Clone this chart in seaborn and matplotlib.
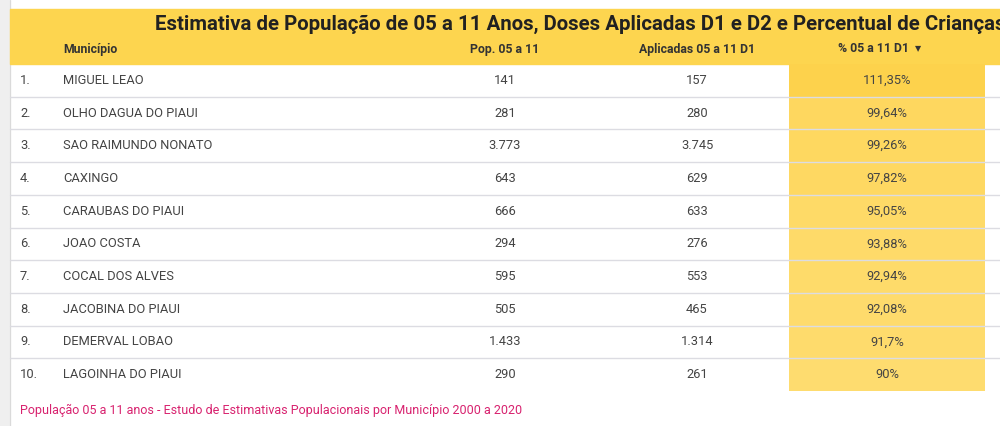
import numpy as np
import pandas as pd
import seaborn as sns
import matplotlib.pyplot as plt
from matplotlib.colors import LinearSegmentedColormap

# table contents
rank = ["1.", "2.", "3.", "4.", "5.", "6.", "7.", "8.", "9.", "10."]
municipio = ["MIGUEL LEAO", "OLHO DAGUA DO PIAUI", "SAO RAIMUNDO NONATO", "CAXINGO",
             "CARAUBAS DO PIAUI", "JOAO COSTA", "COCAL DOS ALVES", "JACOBINA DO PIAUI",
             "DEMERVAL LOBAO", "LAGOINHA DO PIAUI"]
pop_05_11 = ["141", "281", "3.773", "643", "666", "294", "595", "505", "1.433", "290"]
aplicadas_d1 = ["157", "280", "3.745", "629", "633", "276", "553", "465", "1.314", "261"]
pct_d1 = [111.35, 99.64, 99.26, 97.82, 95.05, 93.88, 92.94, 92.08, 91.7, 90.0]
pct_labels = ["111,35%", "99,64%", "99,26%", "97,82%", "95,05%", "93,88%", "92,94%",
              "92,08%", "91,7%", "90%"]
headers = ["Município", "Pop. 05 a 11", "Aplicadas 05 a 11 D1", "% 05 a 11 D1  ▾"]
title = "Estimativa de População de 05 a 11 Anos, Doses Aplicadas D1 e D2 e Percentual de Crianças"
footer = "População 05 a 11 anos - Estudo de Estimativas Populacionais por Município 2000 a 2020"

sns.set_theme(style="white")
plt.rcParams['font.family'] = ['Roboto', 'DejaVu Sans']

W, H = 1000, 426
fig = plt.figure(figsize=(W / 100, H / 100), dpi=100)
ax = fig.add_axes([0, 0, 1, 1])
ax.set_xlim(0, W)
ax.set_ylim(H, 0)
ax.axis("off")

# page background / left border
ax.add_patch(plt.Rectangle((0, 0), 10, H, color="#EFEFEF", zorder=0))
ax.axvline(10, color="#DADADA", lw=0.8, zorder=1)

# header band
ax.add_patch(plt.Rectangle((10, 9), W - 10, 55, color="#FDD54F", zorder=1))
ax.text(155, 24, title, fontsize=14.7, fontweight="bold", color="#212121",
        va="center", ha="left", zorder=3)

col_x = [63, 505, 697, 880]
aligns = ["left", "center", "center", "center"]
for x, h, a in zip(col_x, headers, aligns):
    ax.text(x, 49, h, fontsize=8.8, fontweight="bold", color="#333333",
            va="center", ha=a, zorder=3)

top, row_h = 64, 32.7
n = len(municipio)

# highlighted percentage column as a seaborn heatmap
x0, x1 = 789, 985
y_bot = top + n * row_h
hax = fig.add_axes([x0 / W, 1 - y_bot / H, (x1 - x0) / W, (y_bot - top) / H])
cmap = LinearSegmentedColormap.from_list("yl", ["#FEDC6F", "#FDD24C"])
pct_df = pd.DataFrame({"pct": pct_d1})
sns.heatmap(pct_df, ax=hax, cmap=cmap, cbar=False,
            annot=np.array(pct_labels).reshape(-1, 1), fmt="",
            annot_kws={"fontsize": 9.3, "color": "#444444"},
            xticklabels=False, yticklabels=False)
hax.set_zorder(2)
hax.patch.set_alpha(0)

for i in range(n):
    yc = top + (i + 0.5) * row_h
    ax.text(20, yc, rank[i], fontsize=9.3, color="#444444", va="center", ha="left")
    ax.text(63, yc, municipio[i], fontsize=9.3, color="#444444", va="center", ha="left")
    ax.text(col_x[1], yc, pop_05_11[i], fontsize=9.3, color="#444444", va="center", ha="center")
    ax.text(col_x[2], yc, aplicadas_d1[i], fontsize=9.3, color="#444444", va="center", ha="center")

# row separators drawn above the heatmap
for i in range(1, n):
    y = top + i * row_h
    fig.add_artist(plt.Line2D([10 / W, 1], [1 - y / H, 1 - y / H],
                              color="#DCDCE2", lw=1, zorder=5))

ax.text(20, 410, footer, fontsize=9, color="#D8226F", va="center", ha="left")

fig.savefig("out.png", dpi=100)
